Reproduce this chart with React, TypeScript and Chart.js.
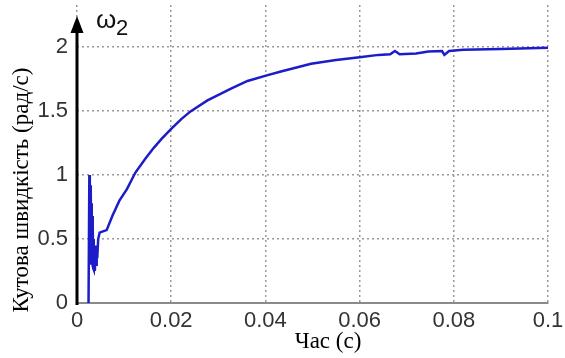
import React, { useEffect, useRef } from 'react';
import { Chart, registerables } from 'chart.js';

Chart.register(...registerables);

// Time (s)
const timeS = [
  0.00245, 0.00262, 0.0027, 0.00275, 0.00282, 0.00289, 0.00296, 0.00303, 0.0031, 0.00317,
  0.00324, 0.00331, 0.00338, 0.00345, 0.00352, 0.0036, 0.0037, 0.0038, 0.00392, 0.00405,
  0.00418, 0.0043, 0.0045, 0.0048, 0.0055, 0.0063, 0.0075, 0.009, 0.0106, 0.0124,
  0.0145, 0.0163, 0.018, 0.02, 0.0222, 0.0241, 0.0277, 0.0327, 0.0362, 0.0403,
  0.0433, 0.0497, 0.055, 0.06, 0.064, 0.0665, 0.0675, 0.0685, 0.072,
  0.0746, 0.0775, 0.078, 0.079, 0.082, 0.09, 0.1,
];
// Angular velocity ω2 (rad/s)
const omega2 = [
  0, 1.0, 0.98, 0.32, 0.92, 0.3, 0.85, 0.32, 0.78, 0.3,
  0.68, 0.28, 0.6, 0.27, 0.5, 0.26, 0.45, 0.25, 0.42, 0.3,
  0.45, 0.35, 0.5, 0.55, 0.56, 0.57, 0.68, 0.8, 0.89, 1.02,
  1.127, 1.213, 1.285, 1.362, 1.44, 1.498, 1.584, 1.676, 1.736, 1.78,
  1.81, 1.87, 1.9, 1.922, 1.94, 1.945, 1.97, 1.945, 1.95,
  1.967, 1.97, 1.94, 1.97, 1.98, 1.985, 1.995,
];

const xTicks = [0, 0.02, 0.04, 0.06, 0.08, 0.1];
const yTicks = [0, 0.5, 1, 1.5, 2];
const xTitle = 'Час (с)';
const yTitle = 'Кутова швидкість (рад/с)';
const seriesSymbol = 'ω';
const seriesSub = '2';

const fmt = (v: number) => String(Number(Number(v).toFixed(3)));

const overlay = {
  id: 'overlay',
  afterDraw(chart: any) {
    const { ctx } = chart;
    const x0 = chart.scales.x.getPixelForValue(0);
    const yb = chart.scales.y.getPixelForValue(0);
    ctx.save();
    // y axis with arrow
    ctx.strokeStyle = '#000';
    ctx.lineWidth = 3;
    ctx.beginPath();
    ctx.moveTo(x0, yb + 2);
    ctx.lineTo(x0, 30);
    ctx.stroke();
    ctx.fillStyle = '#000';
    ctx.beginPath();
    ctx.moveTo(x0, 16);
    ctx.lineTo(x0 - 6.5, 33);
    ctx.lineTo(x0 + 6.5, 33);
    ctx.closePath();
    ctx.fill();
    // ω2 label
    ctx.fillStyle = '#111';
    ctx.textAlign = 'left';
    ctx.textBaseline = 'alphabetic';
    ctx.font = '26px "Liberation Sans", Arial, sans-serif';
    ctx.fillText(seriesSymbol, x0 + 19, 28);
    ctx.font = '22px "Liberation Sans", Arial, sans-serif';
    ctx.fillText(seriesSub, x0 + 39, 35);
    // axis titles
    ctx.fillStyle = '#000';
    ctx.font = '23px "Liberation Serif", "Times New Roman", serif';
    ctx.textAlign = 'center';
    ctx.textBaseline = 'middle';
    ctx.fillText(xTitle, 328, 342);
    ctx.translate(22, 190);
    ctx.rotate(-Math.PI / 2);
    ctx.fillText(yTitle, 0, 0);
    ctx.restore();
  },
};

export default function App() {
  const ref = useRef<HTMLCanvasElement | null>(null);
  useEffect(() => {
    if (!ref.current) return;
    const tickFont = { family: '"Liberation Sans", Arial, sans-serif', size: 22 };
    const chart = new Chart(ref.current, {
      type: 'line',
      data: {
        datasets: [
          {
            label: 'ω2',
            data: timeS.map((t, i) => ({ x: t, y: omega2[i] })),
            borderColor: '#1c1cc8',
            borderWidth: 2.5,
            pointRadius: 0,
            tension: 0,
            fill: false,
          },
        ],
      },
      options: {
        animation: false,
        responsive: false,
        layout: { padding: { top: 5, right: 17, left: 0, bottom: 0 } },
        plugins: { legend: { display: false }, tooltip: { enabled: false }, title: { display: false } },
        scales: {
          x: {
            type: 'linear',
            min: 0,
            max: 0.1,
            afterBuildTicks: (s: any) => {
              s.ticks = xTicks.map((v) => ({ value: v }));
            },
            afterFit: (s: any) => {
              s.height = 55;
              s.paddingLeft = 0;
              s.paddingRight = 0;
            },
            ticks: {
              callback: (v: any) => fmt(v),
              font: tickFont,
              color: '#333',
              padding: 5,
              maxRotation: 0,
              autoSkip: false,
            },
            grid: { color: '#999', lineWidth: 1.5, drawTicks: false },
            border: { display: true, color: '#8a8a8a', width: 2, dash: [2, 3] },
          },
          y: {
            type: 'linear',
            min: 0,
            max: 2.33,
            afterBuildTicks: (s: any) => {
              s.ticks = yTicks.map((v) => ({ value: v }));
            },
            afterFit: (s: any) => {
              s.width = 77;
              s.paddingTop = 0;
              s.paddingBottom = 0;
            },
            ticks: {
              callback: (v: any) => fmt(v),
              font: tickFont,
              color: '#333',
              padding: 9,
              autoSkip: false,
            },
            grid: { color: '#999', lineWidth: 1.5, drawTicks: false },
            border: { display: false, dash: [2, 3] },
          },
        },
      },
      plugins: [overlay],
    });
    return () => chart.destroy();
  }, []);
  return (
    <div style={{ position: 'fixed', left: 0, top: 0, width: 565, height: 358, background: '#fff' }}>
      <canvas ref={ref} width={565} height={358} />
    </div>
  );
}
